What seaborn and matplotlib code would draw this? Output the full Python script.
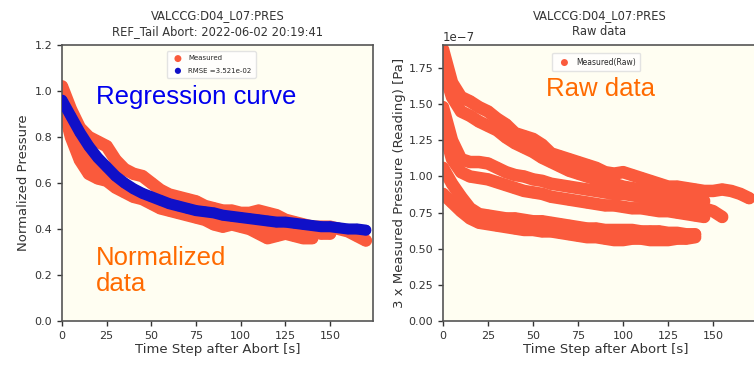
import numpy as np
import pandas as pd
import matplotlib
matplotlib.use("Agg")
import matplotlib.pyplot as plt
import seaborn as sns

# ---------------- data ----------------
t_step = 5
# normalized traces (left)
norm_1 = [1.02, 0.92, 0.84, 0.80, 0.78, 0.76, 0.70, 0.66, 0.64, 0.63, 0.60, 0.57, 0.55, 0.54, 0.53,
          0.52, 0.50, 0.49, 0.48, 0.48, 0.47, 0.47, 0.48, 0.47, 0.46, 0.44, 0.43, 0.42, 0.41, 0.41,
          0.41, 0.40, 0.39, 0.37, 0.35]
norm_2 = [0.98, 0.86, 0.76, 0.70, 0.67, 0.65, 0.62, 0.59, 0.56, 0.55, 0.53, 0.51, 0.50, 0.49, 0.48,
          0.47, 0.46, 0.45, 0.44, 0.44, 0.43, 0.42, 0.42, 0.41, 0.41, 0.41, 0.40, 0.40, 0.39, 0.38,
          0.38]
norm_3 = [0.95, 0.80, 0.70, 0.64, 0.62, 0.61, 0.58, 0.56, 0.54, 0.53, 0.51, 0.49, 0.48, 0.47, 0.46,
          0.45, 0.44, 0.42, 0.41, 0.42, 0.41, 0.40, 0.38, 0.36, 0.37, 0.38, 0.37, 0.36, 0.36]
# regression curve (left)
fit_curve = [0.96, 0.89, 0.82, 0.76, 0.71, 0.67, 0.63, 0.60, 0.575, 0.555, 0.54, 0.525, 0.51, 0.50,
             0.49, 0.48, 0.475, 0.47, 0.46, 0.455, 0.45, 0.445, 0.44, 0.435, 0.43, 0.43, 0.425,
             0.42, 0.415, 0.41, 0.41, 0.405, 0.40, 0.40, 0.395]
# raw traces (right), units of 1e-7 Pa
raw_1 = [1.88, 1.65, 1.55, 1.52, 1.48, 1.45, 1.40, 1.36, 1.30, 1.28, 1.26, 1.22, 1.16, 1.14, 1.12,
         1.10, 1.08, 1.06, 1.03, 1.02, 1.03, 1.01, 0.99, 0.97, 0.95, 0.93, 0.93, 0.92, 0.91, 0.90,
         0.90, 0.91, 0.90, 0.88, 0.85]
raw_2 = [1.75, 1.55, 1.45, 1.42, 1.38, 1.35, 1.32, 1.27, 1.23, 1.20, 1.17, 1.13, 1.10, 1.07, 1.04,
         1.02, 1.00, 0.98, 0.97, 0.95, 0.93, 0.92, 0.91, 0.89, 0.88, 0.87, 0.86, 0.85, 0.84, 0.83]
raw_3 = [1.48, 1.25, 1.12, 1.10, 1.10, 1.09, 1.06, 1.03, 1.01, 1.00, 0.98, 0.97, 0.95, 0.94, 0.93,
         0.92, 0.91, 0.90, 0.89, 0.88, 0.88, 0.87, 0.86, 0.85, 0.84, 0.83, 0.82, 0.81, 0.80, 0.78,
         0.76, 0.72]
raw_4 = [1.35, 1.12, 1.03, 1.00, 0.99, 0.98, 0.96, 0.94, 0.92, 0.90, 0.89, 0.88, 0.86, 0.85, 0.84,
         0.83, 0.82, 0.81, 0.80, 0.80, 0.79, 0.78, 0.78, 0.77, 0.76, 0.76, 0.75, 0.74, 0.73, 0.72]
raw_5 = [1.06, 0.95, 0.86, 0.78, 0.74, 0.73, 0.72, 0.71, 0.71, 0.70, 0.69, 0.69, 0.68, 0.67, 0.66,
         0.65, 0.64, 0.64, 0.63, 0.63, 0.63, 0.63, 0.62, 0.62, 0.62, 0.61, 0.61, 0.60, 0.60]
raw_6 = [0.88, 0.82, 0.76, 0.71, 0.68, 0.67, 0.66, 0.65, 0.64, 0.63, 0.63, 0.62, 0.62, 0.61, 0.60,
         0.59, 0.58, 0.58, 0.57, 0.56, 0.56, 0.57, 0.57, 0.56, 0.56, 0.56, 0.57, 0.57, 0.58]

raw_scale = 1e-7
x_ticks = [0, 25, 50, 75, 100, 125, 150]


def long_df(traces, scale=1.0):
    rows = []
    for k, tr in enumerate(traces):
        for i, v in enumerate(tr):
            rows.append({"t": i * t_step, "v": v * scale, "trace": k})
    return pd.DataFrame(rows)


norm_df = long_df([norm_1, norm_2, norm_3])
fit_df = long_df([fit_curve])
raw_df = long_df([raw_1, raw_2, raw_3, raw_4, raw_5, raw_6], raw_scale)

# ---------------- style ----------------
sns.set_theme(style="ticks")
plt.rcParams["font.family"] = ["DejaVu Sans"]
plt.rcParams["axes.edgecolor"] = "#555555"
plt.rcParams["axes.linewidth"] = 1.2

ORANGE = "#fa5a3c"
BLUE = "#1010c8"
FACE = "#fffef2"
TXT = "#333333"
ANN_FONT = ["Liberation Sans", "DejaVu Sans"]

fig = plt.figure(figsize=(7.54, 3.68), dpi=100)
axL = fig.add_axes([62 / 754, 1 - 321 / 368, 311 / 754, 276 / 368])
axR = fig.add_axes([443 / 754, 1 - 321 / 368, 326 / 754, 276 / 368])

for ax in (axL, axR):
    ax.set_facecolor(FACE)
    ax.tick_params(labelsize=8, colors=TXT, length=3.5, width=1)

# ---- left panel ----
sns.lineplot(data=norm_df, x="t", y="v", units="trace", estimator=None, ax=axL,
             color=ORANGE, lw=9, alpha=1.0, legend=False, solid_capstyle="round")
sns.scatterplot(data=norm_df, x="t", y="v", ax=axL, color=ORANGE, s=70,
                edgecolor="none", label="Measured", zorder=2)
sns.lineplot(data=fit_df, x="t", y="v", ax=axL, color=BLUE, lw=8,
             legend=False, solid_capstyle="round", zorder=3)
sns.scatterplot(data=fit_df, x="t", y="v", ax=axL, color=BLUE, s=55,
                edgecolor="none", label="RMSE =3.521e-02", zorder=3)
axL.set_xlim(0, 174)
axL.set_ylim(0, 1.2)
axL.set_xticks(x_ticks)
axL.set_yticks([0.0, 0.2, 0.4, 0.6, 0.8, 1.0, 1.2])
axL.set_xlabel("Time Step after Abort [s]", fontsize=9.5, color=TXT, labelpad=2)
axL.set_ylabel("Normalized Pressure", fontsize=9.5, color=TXT, labelpad=3)
axL.set_title("VALCCG:D04_L07:PRES\nREF_Tail Abort: 2022-06-02 20:19:41",
              fontsize=8.3, color=TXT, pad=7, linespacing=1.35)
legL = axL.legend(loc="upper center", bbox_to_anchor=(0.48, 0.99), fontsize=5,
                  markerscale=0.6, frameon=True, handletextpad=0.5, borderpad=0.6,
                  labelspacing=0.9)
legL.get_frame().set_edgecolor("#dddddd")
axL.text(0.11, 0.785, "Regression curve", transform=axL.transAxes, color="#0000ee",
         fontsize=18.5, family=ANN_FONT)
axL.text(0.11, 0.11, "Normalized\ndata", transform=axL.transAxes, color="#ff6a00",
         fontsize=18.5, family=ANN_FONT, linespacing=1.1)

# ---- right panel ----
sns.lineplot(data=raw_df, x="t", y="v", units="trace", estimator=None, ax=axR,
             color=ORANGE, lw=9, legend=False, solid_capstyle="round")
sns.scatterplot(data=raw_df, x="t", y="v", ax=axR, color=ORANGE, s=70,
                edgecolor="none", label="Measured(Raw)", zorder=2)
axR.set_xlim(0, 181)
axR.set_ylim(0, 1.91e-7)
axR.set_xticks(x_ticks)
axR.set_yticks(np.array([0.0, 0.25, 0.5, 0.75, 1.0, 1.25, 1.5, 1.75]) * raw_scale)
axR.yaxis.get_offset_text().set_fontsize(8.5)
axR.yaxis.get_offset_text().set_color(TXT)
axR.set_xlabel("Time Step after Abort [s]", fontsize=9.5, color=TXT, labelpad=2)
axR.set_ylabel("3 x Measured Pressure (Reading) [Pa]", fontsize=9.5, color=TXT,
               labelpad=2)
axR.set_title("VALCCG:D04_L07:PRES\nRaw data", fontsize=8.3, color=TXT, pad=7,
              linespacing=1.35, x=0.48)
legR = axR.legend(loc="upper center", bbox_to_anchor=(0.47, 0.985), fontsize=5.5,
                  markerscale=0.6, frameon=True, handletextpad=0.5, borderpad=0.6)
legR.get_frame().set_edgecolor("#dddddd")
axR.text(0.315, 0.815, "Raw data", transform=axR.transAxes, color="#ff6a00",
         fontsize=18.5, family=ANN_FONT)

fig.savefig("out.png", dpi=100)
